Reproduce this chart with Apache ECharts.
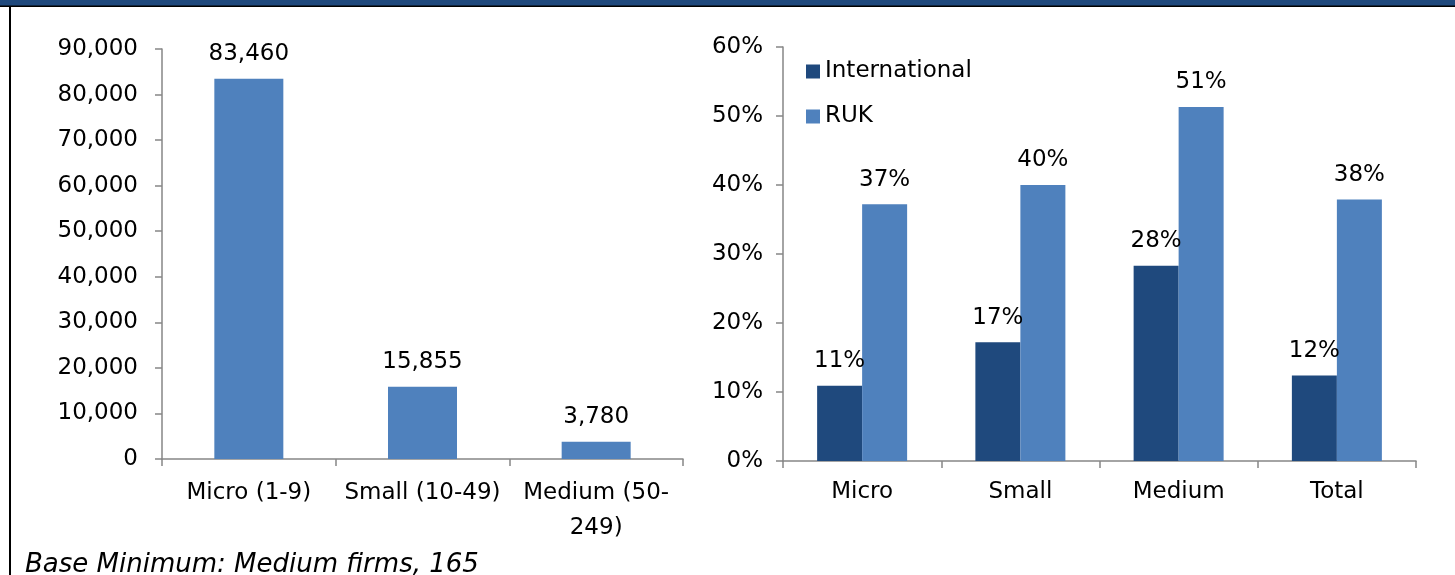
<!DOCTYPE html>
<html>
<head>
<meta charset="utf-8">
<script src="https://cdn.jsdelivr.net/npm/echarts@6/dist/echarts.min.js"></script>
<style>
html,body{margin:0;padding:0;background:#fff;}
#c{width:1455px;height:575px;}
</style>
</head>
<body>
<div id="c"></div>
<script>
// Left chart: firms by size band
const sizeCategories = ['Micro (1-9)', 'Small (10-49)', 'Medium (50-\n249)'];
const firmCounts = [83460, 15855, 3780];
const countTicks = { min: 0, max: 90000, interval: 10000 };

// Right chart: share of firms exporting
const exportCategories = ['Micro', 'Small', 'Medium', 'Total'];
const internationalShare = [10.9, 17.2, 28.3, 12.4];
const rukShare = [37.2, 40.0, 51.3, 37.9];
const shareTicks = { min: 0, max: 60, interval: 10 };

const footnote = 'Base Minimum: Medium firms, 165';

const FONT = '"DejaVu Sans", "Liberation Sans", Arial, sans-serif';
const FS = 23;
const DARK = '#1F497D';
const LIGHT = '#4F81BD';
const AXIS = '#868686';

const fmtThousands = v => String(Math.round(v)).replace(/\B(?=(\d{3})+(?!\d))/g, ',');

const chart = echarts.init(document.getElementById('c'), null, { renderer: 'canvas' });

const axisCommon = {
  axisLine: { show: true, lineStyle: { color: AXIS, width: 1.5 } },
  axisTick: { show: true, lineStyle: { color: AXIS, width: 1.5 }, length: 7 },
  splitLine: { show: false }
};
const txt = { fontSize: FS, fontFamily: FONT, color: '#000' };

chart.setOption({
  animation: false,
  backgroundColor: '#fff',
  textStyle: { fontFamily: FONT },
  graphic: [
    { type: 'rect', shape: { x: 0, y: 0, width: 1455, height: 6 }, style: { fill: DARK } },
    { type: 'rect', shape: { x: 0, y: 5.5, width: 1455, height: 1.5 }, style: { fill: '#000' } },
    { type: 'rect', shape: { x: 9, y: 6, width: 2, height: 569 }, style: { fill: '#000' } },
    { type: 'text', left: 25, top: 552, style: { text: footnote, font: 'italic 26px ' + FONT, fill: '#000' } }
  ],
  legend: {
    data: ['International', 'RUK'],
    orient: 'vertical',
    left: 806,
    top: 60,
    padding: 0,
    itemWidth: 14,
    itemHeight: 14,
    itemGap: 22,
    icon: 'rect',
    textStyle: txt
  },
  grid: [
    { left: 162, right: 772, top: 49, bottom: 116 },
    { left: 783, right: 39, top: 47, bottom: 114 }
  ],
  xAxis: [
    Object.assign({}, axisCommon, {
      type: 'category', gridIndex: 0, data: sizeCategories,
      axisLabel: Object.assign({}, txt, { margin: 17, lineHeight: 35, interval: 0 })
    }),
    Object.assign({}, axisCommon, {
      type: 'category', gridIndex: 1, data: exportCategories,
      axisLabel: Object.assign({}, txt, { margin: 20, interval: 0 })
    })
  ],
  yAxis: [
    Object.assign({}, axisCommon, {
      type: 'value', gridIndex: 0,
      min: countTicks.min, max: countTicks.max, interval: countTicks.interval,
      axisLabel: Object.assign({}, txt, { margin: 24, formatter: fmtThousands })
    }),
    Object.assign({}, axisCommon, {
      type: 'value', gridIndex: 1,
      min: shareTicks.min, max: shareTicks.max, interval: shareTicks.interval,
      axisLabel: Object.assign({}, txt, { margin: 20, formatter: v => v + '%' })
    })
  ],
  series: [
    {
      name: 'Firms', type: 'bar', xAxisIndex: 0, yAxisIndex: 0,
      data: firmCounts, barWidth: 69,
      itemStyle: { color: LIGHT },
      label: Object.assign({ show: true, position: 'top', distance: 13, formatter: p => fmtThousands(p.value) }, txt)
    },
    {
      name: 'International', type: 'bar', xAxisIndex: 1, yAxisIndex: 1,
      data: internationalShare, barWidth: 45, barGap: '0%',
      itemStyle: { color: DARK },
      label: Object.assign({ show: true, position: 'top', distance: 13, formatter: p => Math.round(p.value) + '%' }, txt)
    },
    {
      name: 'RUK', type: 'bar', xAxisIndex: 1, yAxisIndex: 1,
      data: rukShare, barWidth: 45, barGap: '0%',
      itemStyle: { color: LIGHT },
      label: Object.assign({ show: true, position: 'top', distance: 13, formatter: p => Math.round(p.value) + '%' }, txt)
    }
  ]
});
</script>
</body>
</html>
